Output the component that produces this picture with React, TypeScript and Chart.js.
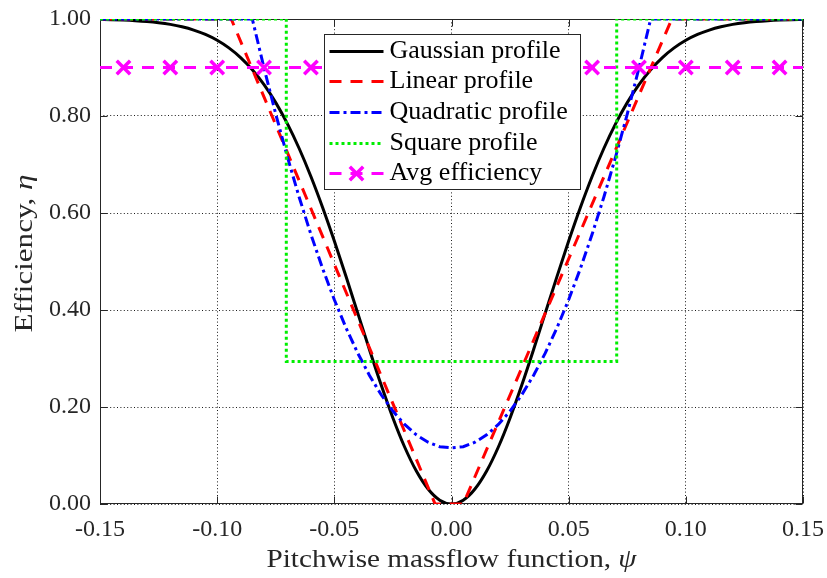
import React, { useEffect, useRef } from 'react';
import { Chart, registerables } from 'chart.js';

Chart.register(...registerables);

// ---- data ----
const psiGrid = [
  -0.15, -0.145, -0.14, -0.135, -0.13, -0.125, -0.12, -0.115, -0.11, -0.105,
  -0.1, -0.095, -0.09, -0.085, -0.08, -0.075, -0.07, -0.065, -0.06, -0.055,
  -0.05, -0.045, -0.04, -0.035, -0.03, -0.025, -0.02, -0.015, -0.01, -0.005,
  0,
  0.005, 0.01, 0.015, 0.02, 0.025, 0.03, 0.035, 0.04, 0.045, 0.05,
  0.055, 0.06, 0.065, 0.07, 0.075, 0.08, 0.085, 0.09, 0.095, 0.1,
  0.105, 0.11, 0.115, 0.12, 0.125, 0.13, 0.135, 0.14, 0.145, 0.15,
];
const gaussianEta = [
  0.9991, 0.9986, 0.9978, 0.9966, 0.9949, 0.9924, 0.9889, 0.984, 0.9772, 0.9681,
  0.9561, 0.9404, 0.9204, 0.8954, 0.8647, 0.8276, 0.7837, 0.733, 0.6753, 0.6114,
  0.5422, 0.4689, 0.3935, 0.3181, 0.2452, 0.1774, 0.1175, 0.0679, 0.0308, 0.0078,
  0,
  0.0078, 0.0308, 0.0679, 0.1175, 0.1774, 0.2452, 0.3181, 0.3935, 0.4689, 0.5422,
  0.6114, 0.6753, 0.733, 0.7837, 0.8276, 0.8647, 0.8954, 0.9204, 0.9404, 0.9561,
  0.9681, 0.9772, 0.984, 0.9889, 0.9924, 0.9949, 0.9966, 0.9978, 0.9986, 0.9991,
];
const linearPsi = [-0.15, -0.094, -0.007, 0.005, 0.094, 0.15];
const linearEta = [1, 1, 0, 0, 1, 1];
const quadraticPsi = [
  -0.15, -0.085, -0.08, -0.075, -0.07, -0.065, -0.06, -0.055, -0.05, -0.045,
  -0.04, -0.035, -0.03, -0.025, -0.02, -0.015, -0.01, -0.005, 0,
  0.005, 0.01, 0.015, 0.02, 0.025, 0.03, 0.035, 0.04, 0.045, 0.05,
  0.055, 0.06, 0.065, 0.07, 0.075, 0.08, 0.085, 0.15,
];
const quadraticEta = [
  1, 1, 0.899, 0.804, 0.7152, 0.6325, 0.556, 0.4855, 0.4212, 0.3631,
  0.311, 0.2651, 0.2252, 0.1916, 0.164, 0.1426, 0.1273, 0.118, 0.116,
  0.118, 0.1273, 0.1426, 0.164, 0.1916, 0.2252, 0.2651, 0.311, 0.3631, 0.4212,
  0.4855, 0.556, 0.6325, 0.7152, 0.804, 0.899, 1, 1,
];
const squarePsi = [-0.15, -0.0705, -0.0705, 0.0705, 0.0705, 0.15];
const squareEta = [1, 1, 0.294, 0.294, 1, 1];
const avgPsi = [
  -0.15, -0.14, -0.12, -0.1, -0.08, -0.06, -0.04, -0.02, 0,
  0.02, 0.04, 0.06, 0.08, 0.1, 0.12, 0.14, 0.15,
];
const avgEta = [0.9, 0.9, 0.9, 0.9, 0.9, 0.9, 0.9, 0.9, 0.9, 0.9, 0.9, 0.9, 0.9, 0.9, 0.9, 0.9, 0.9];

const xTickValues = [-0.15, -0.1, -0.05, 0, 0.05, 0.1, 0.15];
const xTickLabels = ['-0.15', '-0.10', '-0.05', '0.00', '0.05', '0.10', '0.15'];
const yTickValues = [0, 0.2, 0.4, 0.6, 0.8, 1];
const yTickLabels = ['0.00', '0.20', '0.40', '0.60', '0.80', '1.00'];

const seriesNames = ['Gaussian profile', 'Linear profile', 'Quadratic profile', 'Square profile', 'Avg efficiency'];
const xTitle = 'Pitchwise massflow function, ';
const xTitleSymbol = 'ψ';
const yTitle = 'Efficiency, ';
const yTitleSymbol = 'η';

// ---- styles ----
const SERIF = '"Liberation Serif", "Times New Roman", serif';
const TEXT = '#262626';
const styles = [
  { color: '#000000', dash: [] as number[] },
  { color: '#ff0000', dash: [12, 9] },
  { color: '#0000ff', dash: [10, 4, 3, 4] },
  { color: '#00ee00', dash: [3, 3] },
  { color: '#ff00ff', dash: [12, 9] },
];

const pts = (xs: number[], ys: number[]) => xs.map((x, i) => ({ x, y: ys[i] }));

const framePlugin = {
  id: 'frame',
  beforeDatasetsDraw(chart: any) {
    const { ctx, chartArea: a, scales } = chart;
    ctx.save();
    ctx.strokeStyle = TEXT;
    ctx.lineWidth = 1;
    ctx.setLineDash([]);
    const L = Math.round(a.left) + 0.5;
    const R = Math.round(a.right) - 0.5;
    const T = Math.round(a.top) + 0.5;
    const B = Math.round(a.bottom) - 0.5;
    ctx.strokeRect(L, T, R - L, B - T);
    const tl = 7;
    ctx.beginPath();
    xTickValues.forEach((v) => {
      const px = Math.round(scales.x.getPixelForValue(v)) + 0.5;
      ctx.moveTo(px, B);
      ctx.lineTo(px, B - tl);
      ctx.moveTo(px, T);
      ctx.lineTo(px, T + tl);
    });
    yTickValues.forEach((v) => {
      const py = Math.round(scales.y.getPixelForValue(v)) + 0.5;
      ctx.moveTo(L, py);
      ctx.lineTo(L + tl, py);
      ctx.moveTo(R, py);
      ctx.lineTo(R - tl, py);
    });
    ctx.stroke();
    ctx.restore();
  },
  afterDraw(chart: any) {
    const { ctx, chartArea: a } = chart;
    ctx.save();
    // ---- axis titles ----
    const titleSize = 26;
    const up = `${titleSize}px ${SERIF}`;
    const it = `italic ${titleSize}px ${SERIF}`;
    ctx.fillStyle = TEXT;
    ctx.textBaseline = 'alphabetic';
    ctx.textAlign = 'left';
    const drawTitle = (main: string, sym: string, cx: number, cy: number, target: number, rot: number) => {
      ctx.font = up;
      const w1 = ctx.measureText(main).width;
      ctx.font = it;
      const w2 = ctx.measureText(sym).width;
      const tot = w1 + w2;
      const s = target / tot;
      ctx.save();
      ctx.translate(cx, cy);
      ctx.rotate(rot);
      ctx.scale(s, 1);
      ctx.font = up;
      ctx.fillText(main, -tot / 2, 0);
      ctx.font = it;
      ctx.fillText(sym, -tot / 2 + w1, 0);
      ctx.restore();
    };
    const midX = (a.left + a.right) / 2;
    const midY = (a.top + a.bottom) / 2;
    drawTitle(xTitle, xTitleSymbol, midX, a.bottom + 63, 370, 0);
    drawTitle(yTitle, yTitleSymbol, 32, midY - 8, 158, -Math.PI / 2);

    // ---- legend ----
    const lw = 256;
    const lh = 155;
    const lx = Math.round(midX - lw / 2) + 0.5;
    const ly = Math.round(a.top + 15) + 0.5;
    ctx.fillStyle = '#ffffff';
    ctx.fillRect(lx, ly, lw, lh);
    ctx.strokeStyle = TEXT;
    ctx.lineWidth = 1;
    ctx.setLineDash([]);
    ctx.strokeRect(lx, ly, lw, lh);
    const rowH = 30.7;
    const sx0 = lx + 5;
    const sx1 = lx + 59;
    ctx.font = `26px ${SERIF}`;
    ctx.textBaseline = 'middle';
    ctx.textAlign = 'left';
    seriesNames.forEach((name, i) => {
      const y = Math.round(ly + 16 + i * rowH) + 0.5;
      const st = styles[i];
      ctx.save();
      ctx.strokeStyle = st.color;
      ctx.lineWidth = 3;
      ctx.setLineDash(st.dash);
      ctx.beginPath();
      ctx.moveTo(sx0, y);
      ctx.lineTo(sx1, y);
      ctx.stroke();
      if (i === 4) {
        const cx = (sx0 + sx1) / 2;
        const o = 6.7;
        ctx.setLineDash([]);
        ctx.lineWidth = 3.5;
        ctx.beginPath();
        ctx.moveTo(cx - o, y - o);
        ctx.lineTo(cx + o, y + o);
        ctx.moveTo(cx - o, y + o);
        ctx.lineTo(cx + o, y - o);
        ctx.stroke();
      }
      ctx.restore();
      ctx.fillStyle = '#000000';
      ctx.font = `26px ${SERIF}`;
      ctx.fillText(name, lx + 65, y);
    });
    ctx.restore();
  },
};

export default function App() {
  const canvasRef = useRef<HTMLCanvasElement | null>(null);

  useEffect(() => {
    if (!canvasRef.current) return;
    const tickFont = { family: SERIF, size: 24 };
    const gridDash = [1, 2.4];
    const gridColor = '#1a1a1a';
    const chart = new Chart(canvasRef.current, {
      type: 'line',
      data: {
        datasets: [
          {
            label: seriesNames[0],
            data: pts(psiGrid, gaussianEta),
            borderColor: styles[0].color,
            borderWidth: 3,
            borderDash: styles[0].dash,
            pointRadius: 0,
            cubicInterpolationMode: 'monotone',
            fill: false,
            order: 5,
          },
          {
            label: seriesNames[1],
            data: pts(linearPsi, linearEta),
            borderColor: styles[1].color,
            borderWidth: 3,
            borderDash: styles[1].dash,
            pointRadius: 0,
            tension: 0,
            fill: false,
            order: 4,
          },
          {
            label: seriesNames[2],
            data: pts(quadraticPsi, quadraticEta),
            borderColor: styles[2].color,
            borderWidth: 3,
            borderDash: styles[2].dash,
            pointRadius: 0,
            tension: 0,
            fill: false,
            order: 3,
          },
          {
            label: seriesNames[3],
            data: pts(squarePsi, squareEta),
            borderColor: styles[3].color,
            borderWidth: 3,
            borderDash: styles[3].dash,
            pointRadius: 0,
            tension: 0,
            fill: false,
            order: 2,
          },
          {
            label: seriesNames[4],
            data: pts(avgPsi, avgEta),
            borderColor: styles[4].color,
            borderWidth: 3,
            borderDash: styles[4].dash,
            pointStyle: 'crossRot',
            pointRadius: (c: any) => (c.dataIndex === 0 || c.dataIndex === avgPsi.length - 1 ? 0 : 9.5),
            pointBorderWidth: 3.5,
            pointBorderColor: styles[4].color,
            pointBackgroundColor: styles[4].color,
            tension: 0,
            fill: false,
            order: 1,
          },
        ],
      },
      options: {
        animation: false,
        responsive: true,
        maintainAspectRatio: false,
        layout: { padding: { left: 0, right: 24, top: 19, bottom: 0 } },
        plugins: {
          legend: { display: false },
          tooltip: { enabled: false },
          title: { display: false },
        },
        scales: {
          x: {
            type: 'linear',
            min: -0.15,
            max: 0.15,
            afterBuildTicks: (s: any) => {
              s.ticks = xTickValues.map((v) => ({ value: v }));
            },
            afterFit: (s: any) => {
              s.height = 74;
              s.paddingLeft = 0;
              s.paddingRight = 0;
            },
            ticks: {
              autoSkip: false,
              maxRotation: 0,
              padding: 11,
              color: TEXT,
              font: tickFont,
              callback: (_v: any, i: number) => xTickLabels[i],
            },
            grid: { color: gridColor, lineWidth: 1, drawTicks: false },
            border: { display: false, dash: gridDash },
          },
          y: {
            type: 'linear',
            min: 0,
            max: 1,
            afterBuildTicks: (s: any) => {
              s.ticks = yTickValues.map((v) => ({ value: v }));
            },
            afterFit: (s: any) => {
              s.width = 100;
              s.paddingTop = 0;
              s.paddingBottom = 0;
            },
            ticks: {
              autoSkip: false,
              padding: 9,
              color: TEXT,
              font: tickFont,
              callback: (_v: any, i: number) => yTickLabels[i],
            },
            grid: { color: gridColor, lineWidth: 1, drawTicks: false },
            border: { display: false, dash: gridDash },
          },
        },
      } as any,
      plugins: [framePlugin],
    });
    return () => chart.destroy();
  }, []);

  return (
    <div style={{ position: 'fixed', left: 0, top: 0, width: 827, height: 578, background: '#ffffff' }}>
      <canvas ref={canvasRef} />
    </div>
  );
}
